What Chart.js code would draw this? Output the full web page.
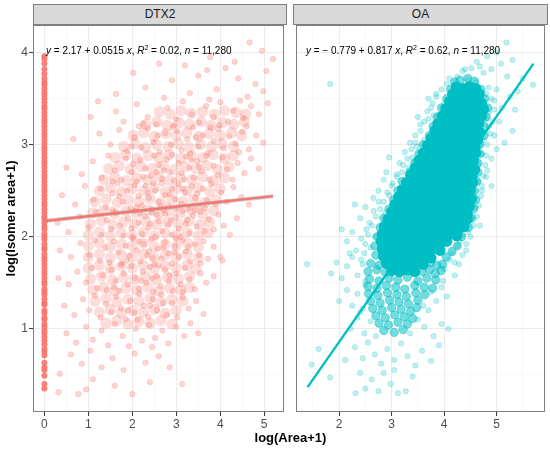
<!DOCTYPE html>
<html>
<head>
<meta charset="utf-8">
<script src="https://cdn.jsdelivr.net/npm/chart.js@4.4.1/dist/chart.umd.min.js"></script>
<style>
  body { margin: 0; background: #fff; font-family: "Liberation Sans", Arial, sans-serif; }
  #wrap { position: relative; width: 550px; height: 449px; overflow: hidden; }
  .box { position: absolute; top: 0; height: 449px; }
  .strip { position: absolute; top: 4px; height: 21px; box-sizing: border-box; background: #d9d9d9;
           border: 1px solid #7f7f7f; font-size: 12px; color: #1a1a1a; text-align: center; line-height: 19px; }
  .eq { position: absolute; top: 45px; font-size: 10px; line-height: 12px; color: #000; white-space: nowrap; }
  .eq sup { font-size: 7px; vertical-align: 4px; line-height: 0; }
  #xtitle { position: absolute; left: 33px; width: 515px; top: 430px; text-align: center;
            font-size: 13px; font-weight: bold; color: #000; }
</style>
</head>
<body>
<div id="wrap">
  <div class="box" style="left:0;width:290px"><canvas id="dtx2" width="290" height="449"></canvas></div>
  <div class="box" style="left:290px;width:260px"><canvas id="oa" width="260" height="449"></canvas></div>
  <div class="strip" style="left:33px;width:254px">DTX2</div>
  <div class="strip" style="left:293px;width:255px">OA</div>
  <div class="eq" style="left:46px"><i>y</i> = 2.17 + 0.0515 <i>x</i>, <i>R</i><sup>2</sup> = 0.02, <i>n</i> = 11,280</div>
  <div class="eq" style="left:306px"><i>y</i> = &minus; 0.779 + 0.817 <i>x</i>, <i>R</i><sup>2</sup> = 0.62, <i>n</i> = 11,280</div>
  <div id="xtitle">log(Area+1)</div>
</div>
<script>
// axis limits and ticks
const yRange = [0.095, 4.30];
const yTicks = [1, 2, 3, 4];
const yMinor = [0.5, 1.5, 2.5, 3.5];
const xRangeDTX2 = [-0.26, 5.46];
const xTicksDTX2 = [0, 1, 2, 3, 4, 5];
const xMinorDTX2 = [0.5, 1.5, 2.5, 3.5, 4.5];
const xRangeOA = [1.17, 5.91];
const xTicksOA = [2, 3, 4, 5];
const xMinorOA = [1.5, 2.5, 3.5, 4.5, 5.5];

// fitted lines
const dtx2FitX = [0, 5.2];
const dtx2FitY = [2.17, 2.44];
const oaFitX = [1.4, 5.7];
const oaFitY = [0.365, 3.88];

// DTX2: isomer values where log(Area+1) = 0
const dtx2ZeroY = [0.35, 0.4, 0.49, 0.55, 0.58, 0.63, 0.71, 0.75, 0.78, 0.83, 0.87, 0.91, 0.95, 0.98,
  1.02, 1.05, 1.1, 1.12, 1.17, 1.2, 1.26, 1.28, 1.32, 1.37, 1.4, 1.43, 1.48, 1.51, 1.55, 1.59, 1.62, 1.66,
  1.7, 1.74, 1.77, 1.81, 1.86, 1.88, 1.92, 1.97, 2.0, 2.03, 2.08, 2.11, 2.15, 2.19, 2.22, 2.26, 2.3, 2.34,
  2.37, 2.41, 2.45, 2.49, 2.52, 2.56, 2.6, 2.64, 2.67, 2.71, 2.75, 2.79, 2.82, 2.86, 2.9, 2.94, 2.97, 3.01,
  3.05, 3.09, 3.12, 3.16, 3.2, 3.24, 3.27, 3.31, 3.35, 3.39, 3.42, 3.46, 3.5, 3.54, 3.57, 3.61, 3.65,
  3.68, 3.72, 3.77, 3.82, 3.88, 3.93, 3.96];

// DTX2 cloud
const dtx2Cloud = [
  [4.67,4.11],[5.2,3.93],[3.77,3.95],[4.33,3.9],[2.61,3.88],[3.2,3.86],[4.95,4.02],
  [1.63,3.55],[2.3,3.62],[2.9,3.7],[3.5,3.75],[3.92,3.6],[4.41,3.72],[4.8,3.66],[5.05,3.8],[2.02,3.78],
  [3.31,3.56],[4.12,3.83],[4.62,3.52],[2.72,3.51],[3.7,3.81],[1.22,3.47],[4.98,3.58],
  [1.05,3.3],[1.63,3.36],[2.1,3.44],[2.35,3.3],[2.55,3.22],[2.8,3.4],[3.0,3.28],[3.15,3.47],[3.35,3.33],
  [3.52,3.24],[3.68,3.42],[3.85,3.3],[4.0,3.46],[4.18,3.25],[4.3,3.37],[4.52,3.29],[4.7,3.42],[4.88,3.33],
  [5.08,3.45],[2.95,3.21],[3.75,3.49],[4.45,3.48],[2.25,3.23],[3.98,3.21],[4.6,3.2],[1.8,3.25],
  [0.66,3.06],[1.25,3.12],[1.5,3.0],[1.7,3.16],[1.88,2.93],[2.05,3.08],[2.2,2.97],[2.35,3.18],[2.48,3.03],
  [2.62,2.92],[2.75,3.12],[2.88,3.0],[3.02,3.15],[3.12,2.94],[3.25,3.06],[3.38,3.19],[3.5,2.98],[3.6,3.1],
  [3.72,2.91],[3.85,3.04],[3.95,3.17],[4.08,2.96],[4.2,3.09],[4.35,3.01],[4.5,3.14],[4.65,2.95],[4.82,3.1],
  [4.98,3.02],[2.15,3.2],[2.58,3.1],[3.32,2.9],[3.78,3.19],[1.98,2.98],[2.92,3.19],[3.45,3.08],[4.42,2.92],
  [0.5,2.75],[0.85,2.68],[1.1,2.82],[1.3,2.64],[1.45,2.88],[1.6,2.72],[1.75,2.62],[1.85,2.85],[1.98,2.7],
  [2.1,2.6],[2.18,2.83],[2.3,2.74],[2.42,2.66],[2.5,2.88],[2.6,2.78],[2.68,2.63],[2.78,2.84],[2.85,2.7],
  [2.95,2.61],[3.05,2.8],[3.12,2.69],[3.22,2.87],[3.3,2.75],[3.4,2.64],[3.48,2.82],[3.58,2.71],[3.68,2.88],
  [3.75,2.62],[3.85,2.77],[3.95,2.67],[4.05,2.86],[4.15,2.73],[4.28,2.62],[4.4,2.8],[4.55,2.69],[4.7,2.85],
  [4.88,2.74],[2.25,2.65],[2.55,2.7],[2.9,2.89],[3.18,2.62],[3.52,2.76],[2.02,2.79],[2.72,2.72],[3.35,2.83],[1.55,2.6],
  [0.4,2.45],[0.7,2.35],[0.92,2.55],[1.12,2.4],[1.28,2.52],[1.4,2.32],[1.55,2.47],[1.66,2.58],[1.78,2.38],
  [1.88,2.5],[1.96,2.31],[2.05,2.56],[2.14,2.44],[2.22,2.34],[2.3,2.55],[2.38,2.42],[2.45,2.3],[2.52,2.5],
  [2.6,2.38],[2.67,2.58],[2.74,2.45],[2.82,2.33],[2.9,2.52],[2.97,2.41],[3.05,2.57],[3.12,2.36],[3.2,2.48],
  [3.28,2.3],[3.35,2.55],[3.43,2.42],[3.52,2.33],[3.6,2.52],[3.7,2.4],[3.8,2.57],[3.9,2.35],[4.02,2.48],
  [4.15,2.38],[4.3,2.54],[4.48,2.43],[4.65,2.35],[2.1,2.32],[2.48,2.58],[2.85,2.46],[3.15,2.52],[3.48,2.47],
  [2.65,2.33],[1.7,2.44],[3.0,2.31],[2.35,2.48],[3.65,2.31],
  [0.3,2.15],[0.55,2.05],[0.8,2.22],[1.0,2.1],[1.18,2.27],[1.3,2.02],[1.42,2.18],[1.52,2.08],[1.62,2.26],
  [1.72,2.12],[1.8,2.01],[1.9,2.2],[1.98,2.09],[2.06,2.28],[2.14,2.15],[2.22,2.03],[2.3,2.22],[2.37,2.1],
  [2.44,2.26],[2.52,2.0],[2.6,2.17],[2.68,2.06],[2.75,2.25],[2.82,2.13],[2.9,2.02],[2.98,2.21],[3.06,2.09],
  [3.14,2.28],[3.22,2.14],[3.3,2.04],[3.38,2.23],[3.46,2.11],[3.55,2.27],[3.64,2.06],[3.74,2.19],[3.85,2.08],
  [3.96,2.24],[4.08,2.12],[4.22,2.02],[4.38,2.2],[2.0,2.0],[2.4,2.14],[2.72,2.29],[3.1,2.0],[3.42,2.29],
  [2.56,2.24],[2.88,2.18],[1.55,2.29],[3.25,2.18],[2.18,2.25],
  [0.35,1.85],[0.6,1.78],[0.82,1.93],[1.02,1.8],[1.15,1.96],[1.26,1.74],[1.38,1.88],[1.48,1.72],[1.58,1.95],
  [1.68,1.83],[1.76,1.71],[1.85,1.9],[1.93,1.79],[2.02,1.98],[2.1,1.85],[2.18,1.73],[2.26,1.92],[2.34,1.8],
  [2.42,1.97],[2.5,1.7],[2.58,1.87],[2.66,1.76],[2.74,1.94],[2.82,1.82],[2.9,1.71],[2.98,1.9],[3.06,1.78],
  [3.14,1.96],[3.22,1.84],[3.32,1.73],[3.42,1.92],[3.52,1.8],[3.62,1.95],[3.72,1.76],[3.85,1.89],[4.0,1.78],
  [4.05,1.74],[2.38,1.84],[2.7,1.88],[3.0,1.98],[2.15,1.95],[1.88,1.74],[3.28,1.89],[2.46,1.77],[2.95,1.83],[3.55,1.71],
  [0.32,1.55],[0.55,1.48],[0.75,1.62],[0.95,1.5],[1.08,1.66],[1.2,1.44],[1.32,1.58],[1.42,1.42],[1.52,1.64],
  [1.62,1.52],[1.7,1.41],[1.8,1.6],[1.9,1.48],[1.98,1.68],[2.06,1.55],[2.15,1.43],[2.24,1.62],[2.32,1.5],
  [2.4,1.67],[2.48,1.4],[2.56,1.57],[2.65,1.46],[2.74,1.64],[2.83,1.52],[2.92,1.41],[3.0,1.6],[3.1,1.48],
  [3.2,1.66],[3.3,1.54],[3.42,1.43],[3.55,1.6],[3.68,1.5],[3.85,1.57],[2.2,1.52],[2.6,1.69],[2.85,1.58],
  [1.75,1.69],[2.45,1.55],[3.15,1.4],[1.58,1.45],
  [0.45,1.25],[0.68,1.15],[0.88,1.32],[1.02,1.2],[1.15,1.36],[1.28,1.12],[1.4,1.27],[1.52,1.18],[1.63,1.35],
  [1.74,1.22],[1.85,1.1],[1.95,1.3],[2.05,1.17],[2.16,1.38],[2.26,1.25],[2.36,1.13],[2.46,1.32],[2.56,1.2],
  [2.66,1.37],[2.78,1.15],[2.9,1.28],[3.02,1.12],[3.14,1.34],[3.28,1.22],[3.45,1.3],[3.62,1.16],[1.9,1.2],
  [2.4,1.25],[2.7,1.28],[2.12,1.1],
  [0.5,0.95],[0.72,0.85],[0.95,1.02],[1.1,0.88],[1.3,0.98],[1.45,0.82],[1.6,1.05],[1.78,0.92],[1.92,0.81],
  [2.08,1.0],[2.22,0.87],[2.38,1.04],[2.52,0.9],[2.68,0.98],[2.82,0.84],[3.0,1.02],[3.18,0.92],[3.5,0.95],
  [3.32,1.06],[2.45,0.8],
  [0.35,0.51],[0.6,0.72],[0.85,0.62],[1.05,0.76],[1.3,0.58],[1.55,0.68],[1.8,0.55],[2.05,0.73],[2.3,0.63],
  [2.6,0.7],[2.85,0.58],[3.13,0.4],
  [0.32,0.31],[0.77,0.29],[2.0,0.29],[1.1,0.45],[1.6,0.38],[2.4,0.42],[0.95,0.34]
];

// DTX2 densest part of the cloud (heavily overlapped points)
const dtx2Dense = [
  [2.62,3.36],[2.86,3.33],[3.11,3.37],[3.34,3.34],[3.6,3.36],[3.86,3.33],[4.1,3.37],[4.36,3.35],[4.58,3.33],
  [2.31,3.22],[2.56,3.25],[2.79,3.21],[3.06,3.24],[3.3,3.22],[3.56,3.25],[3.79,3.21],[4.05,3.24],[4.31,3.22],[4.55,3.25],
  [2.02,3.1],[2.26,3.13],[2.5,3.09],[2.76,3.12],[3.0,3.1],[3.24,3.13],[3.51,3.09],[3.75,3.12],[4.0,3.1],[4.26,3.13],[4.49,3.1],
  [1.8,2.98],[2.06,3.01],[2.3,2.97],[2.55,3.0],[2.81,2.98],[3.05,3.01],[3.29,2.97],[3.55,3.0],[3.8,2.98],[4.04,3.01],[4.3,2.98],
  [1.61,2.86],[1.85,2.89],[2.1,2.85],[2.36,2.88],[2.6,2.86],[2.84,2.89],[3.1,2.85],[3.35,2.88],[3.6,2.86],[3.84,2.89],[4.1,2.85],[4.3,2.88],
  [1.46,2.74],[1.7,2.77],[1.95,2.73],[2.2,2.76],[2.45,2.74],[2.71,2.77],[2.95,2.73],[3.2,2.76],[3.45,2.74],[3.7,2.77],[3.94,2.73],[4.2,2.76],
  [1.35,2.62],[1.6,2.65],[1.86,2.61],[2.1,2.64],[2.35,2.62],[2.6,2.65],[2.84,2.61],[3.1,2.64],[3.36,2.62],[3.6,2.65],[3.85,2.61],[4.1,2.64],
  [1.25,2.5],[1.5,2.53],[1.75,2.49],[2.0,2.52],[2.26,2.5],[2.5,2.53],[2.75,2.49],[3.0,2.52],[3.25,2.5],[3.5,2.53],[3.76,2.49],[4.0,2.52],
  [1.15,2.38],[1.4,2.41],[1.66,2.37],[1.9,2.4],[2.15,2.38],[2.4,2.41],[2.65,2.37],[2.9,2.4],[3.15,2.38],[3.4,2.41],[3.65,2.37],[3.9,2.4],
  [1.1,2.26],[1.35,2.29],[1.6,2.25],[1.85,2.28],[2.1,2.26],[2.35,2.29],[2.6,2.25],[2.85,2.28],[3.1,2.26],[3.35,2.29],[3.6,2.25],[3.85,2.28],
  [1.05,2.14],[1.3,2.17],[1.55,2.13],[1.8,2.16],[2.05,2.14],[2.3,2.17],[2.55,2.13],[2.8,2.16],[3.05,2.14],[3.3,2.17],[3.55,2.13],[3.76,2.16],
  [1.0,2.02],[1.25,2.05],[1.5,2.01],[1.75,2.04],[2.0,2.02],[2.25,2.05],[2.5,2.01],[2.75,2.04],[3.0,2.02],[3.25,2.05],[3.5,2.01],[3.72,2.04],
  [1.0,1.9],[1.25,1.93],[1.5,1.89],[1.75,1.92],[2.0,1.9],[2.25,1.93],[2.5,1.89],[2.75,1.92],[3.0,1.9],[3.25,1.93],[3.5,1.89],
  [1.0,1.78],[1.25,1.81],[1.5,1.77],[1.75,1.8],[2.0,1.78],[2.25,1.81],[2.5,1.77],[2.75,1.8],[3.0,1.78],[3.25,1.81],[3.5,1.77],
  [1.0,1.66],[1.25,1.69],[1.5,1.65],[1.75,1.68],[2.0,1.66],[2.25,1.69],[2.5,1.65],[2.75,1.68],[3.0,1.66],[3.25,1.69],[3.45,1.65],
  [1.05,1.54],[1.3,1.57],[1.55,1.53],[1.8,1.56],[2.05,1.54],[2.3,1.57],[2.55,1.53],[2.8,1.56],[3.05,1.54],[3.3,1.57],
  [1.1,1.42],[1.35,1.45],[1.6,1.41],[1.85,1.44],[2.1,1.42],[2.35,1.45],[2.6,1.41],[2.85,1.44],[3.1,1.42],[3.3,1.45],
  [1.15,1.3],[1.4,1.33],[1.65,1.29],[1.9,1.32],[2.15,1.3],[2.4,1.33],[2.65,1.29],[2.9,1.32],[3.15,1.3],
  [1.25,1.18],[1.5,1.21],[1.75,1.17],[2.0,1.2],[2.25,1.18],[2.5,1.21],[2.75,1.17],[3.0,1.2],
  [1.4,1.06],[1.65,1.09],[1.9,1.05],[2.15,1.08],[2.4,1.06],[2.65,1.09],[2.9,1.05]
];

// OA: saturated core of the cloud
const oaCore = [
  [4.23,3.63],[4.36,3.61],[4.48,3.63],[4.6,3.61],
  [4.16,3.55],[4.29,3.53],[4.42,3.55],[4.55,3.53],[4.67,3.55],
  [4.1,3.47],[4.23,3.45],[4.36,3.47],[4.49,3.45],[4.61,3.47],[4.71,3.45],
  [4.03,3.39],[4.16,3.37],[4.29,3.39],[4.42,3.37],[4.55,3.39],[4.67,3.37],[4.75,3.39],
  [3.96,3.31],[4.09,3.29],[4.22,3.31],[4.35,3.29],[4.48,3.31],[4.6,3.29],[4.71,3.31],
  [3.88,3.23],[4.01,3.21],[4.14,3.23],[4.27,3.21],[4.4,3.23],[4.53,3.21],[4.66,3.23],
  [3.82,3.15],[3.95,3.13],[4.08,3.15],[4.21,3.13],[4.34,3.15],[4.47,3.13],[4.59,3.15],[4.68,3.13],
  [3.75,3.07],[3.88,3.05],[4.01,3.07],[4.14,3.05],[4.27,3.07],[4.4,3.05],[4.53,3.07],[4.64,3.05],
  [3.68,2.99],[3.81,2.97],[3.94,2.99],[4.07,2.97],[4.2,2.99],[4.33,2.97],[4.46,2.99],[4.59,2.97],
  [3.6,2.91],[3.73,2.89],[3.86,2.91],[3.99,2.89],[4.12,2.91],[4.25,2.89],[4.38,2.91],[4.5,2.89],[4.6,2.91],
  [3.52,2.83],[3.65,2.81],[3.78,2.83],[3.91,2.81],[4.04,2.83],[4.17,2.81],[4.3,2.83],[4.43,2.81],[4.56,2.83],
  [3.45,2.75],[3.58,2.73],[3.71,2.75],[3.84,2.73],[3.97,2.75],[4.1,2.73],[4.23,2.75],[4.36,2.73],[4.48,2.75],[4.58,2.73],
  [3.36,2.67],[3.49,2.65],[3.62,2.67],[3.75,2.65],[3.88,2.67],[4.01,2.65],[4.14,2.67],[4.27,2.65],[4.4,2.67],[4.53,2.65],
  [3.28,2.59],[3.41,2.57],[3.54,2.59],[3.67,2.57],[3.8,2.59],[3.93,2.57],[4.06,2.59],[4.19,2.57],[4.32,2.59],[4.44,2.57],[4.54,2.59],
  [3.2,2.51],[3.33,2.49],[3.46,2.51],[3.59,2.49],[3.72,2.51],[3.85,2.49],[3.98,2.51],[4.11,2.49],[4.24,2.51],[4.37,2.49],[4.5,2.51],
  [3.13,2.43],[3.26,2.41],[3.39,2.43],[3.52,2.41],[3.65,2.43],[3.78,2.41],[3.91,2.43],[4.04,2.41],[4.17,2.43],[4.3,2.41],[4.42,2.43],[4.52,2.41],
  [3.06,2.35],[3.19,2.33],[3.32,2.35],[3.45,2.33],[3.58,2.35],[3.71,2.33],[3.84,2.35],[3.97,2.33],[4.1,2.35],[4.23,2.33],[4.36,2.35],[4.48,2.33],
  [3.0,2.27],[3.13,2.25],[3.26,2.27],[3.39,2.25],[3.52,2.27],[3.65,2.25],[3.78,2.27],[3.91,2.25],[4.04,2.27],[4.17,2.25],[4.3,2.27],[4.44,2.25],
  [2.93,2.19],[3.06,2.17],[3.19,2.19],[3.32,2.17],[3.45,2.19],[3.58,2.17],[3.71,2.19],[3.84,2.17],[3.97,2.19],[4.1,2.17],[4.23,2.19],[4.36,2.17],[4.44,2.19],
  [2.86,2.11],[2.99,2.09],[3.12,2.11],[3.25,2.09],[3.38,2.11],[3.51,2.09],[3.64,2.11],[3.77,2.09],[3.9,2.11],[4.03,2.09],[4.16,2.11],[4.28,2.09],[4.38,2.11],
  [2.82,2.03],[2.95,2.01],[3.08,2.03],[3.21,2.01],[3.34,2.03],[3.47,2.01],[3.6,2.03],[3.73,2.01],[3.86,2.03],[3.99,2.01],[4.12,2.03],[4.24,2.01],
  [2.8,1.95],[2.92,1.93],[3.04,1.95],[3.16,1.93],[3.28,1.95],[3.41,1.93],[3.54,1.95],[3.67,1.93],[3.8,1.95],[3.93,1.93],[4.05,1.95],
  [2.82,1.87],[2.94,1.85],[3.06,1.87],[3.18,1.85],[3.3,1.87],[3.42,1.85],[3.55,1.87],[3.68,1.85],[3.8,1.87],[3.92,1.85],
  [2.84,1.79],[2.97,1.77],[3.1,1.79],[3.23,1.77],[3.36,1.79],[3.49,1.77],[3.62,1.79],[3.75,1.77],
  [2.9,1.71],[3.04,1.7],[3.18,1.72],[3.32,1.7],[3.46,1.71],[3.6,1.7],
  [3.0,1.63],[3.15,1.62],[3.3,1.64],[3.44,1.62]
];

// OA: edges of the core and its lower, less saturated part
const oaMid = [
  [4.2,3.68],[4.3,3.7],[4.45,3.72],[4.58,3.69],[4.12,3.6],[4.05,3.5],[3.95,3.4],[3.87,3.3],[3.79,3.2],
  [3.72,3.1],[3.6,3.0],[3.52,2.9],[3.44,2.8],[3.35,2.7],[3.2,2.6],[3.12,2.5],[3.04,2.4],[2.95,2.3],
  [2.85,2.2],[2.78,2.1],[2.73,2.0],[2.68,1.9],[2.7,1.8],
  [4.7,3.6],[4.77,3.5],[4.83,3.4],[4.8,3.3],[4.76,3.2],[4.76,3.1],[4.68,3.0],[4.68,2.9],[4.64,2.8],
  [4.64,2.7],[4.62,2.6],[4.58,2.5],[4.6,2.4],[4.56,2.3],[4.52,2.2],[4.46,2.1],[4.33,2.0],[4.25,1.9],
  [4.15,1.84],[4.04,1.78],
  [2.6,1.71],[2.76,1.69],[3.74,1.72],[3.86,1.69],[3.97,1.7],
  [2.55,1.62],[2.72,1.64],[2.88,1.61],[3.58,1.62],[3.72,1.64],[3.83,1.6],[3.94,1.63],
  [2.58,1.54],[2.76,1.52],[2.95,1.55],[3.12,1.53],[3.3,1.56],[3.5,1.52],[3.67,1.55],[3.84,1.53],
  [2.55,1.46],[2.72,1.44],[2.9,1.47],[3.08,1.45],[3.25,1.43],[3.44,1.47],[3.62,1.45],[3.78,1.44],
  [2.56,1.38],[2.74,1.36],[2.92,1.39],[3.1,1.37],[3.28,1.35],[3.46,1.39],[3.63,1.37],
  [2.6,1.3],[2.78,1.28],[2.96,1.31],[3.14,1.29],[3.32,1.27],[3.5,1.31],
  [2.64,1.22],[2.82,1.2],[3.0,1.23],[3.18,1.21],[3.36,1.19],[3.48,1.23],
  [2.7,1.14],[2.88,1.12],[3.06,1.15],[3.24,1.13],[3.4,1.11],
  [2.76,1.06],[2.94,1.04],[3.12,1.07],[3.3,1.05],
  [2.85,0.98],[3.05,0.96],[3.22,0.99]
];

// OA: fringe and scattered points
const oaCloud = [
  [5.19,4.11],[5.0,4.0],[4.82,3.96],[5.3,3.92],[5.08,3.88],[4.62,3.9],[4.9,3.82],[5.69,3.65],[5.5,3.72],
  [5.2,3.74],[4.4,3.82],[4.25,3.74],[4.75,3.78],[5.4,3.58],[1.83,3.66],
  [4.35,3.8],[4.52,3.83],[4.68,3.85],[4.1,3.72],
  [3.85,3.55],[3.78,3.45],[3.68,3.36],[3.62,3.25],[3.55,3.15],[3.45,3.02],[3.38,2.95],[3.3,2.85],
  [3.22,2.78],[3.1,2.65],[3.0,2.55],[2.92,2.48],[2.85,2.38],[2.78,2.3],[2.7,2.22],[2.62,2.12],[2.55,2.02],
  [2.5,1.92],[2.48,1.82],[2.42,1.75],
  [4.85,3.62],[4.9,3.5],[4.95,3.38],[4.92,3.25],[4.88,3.12],[4.82,3.0],[4.8,2.88],[4.78,2.78],[4.75,2.66],
  [4.72,2.55],[4.7,2.44],[4.66,2.34],[4.62,2.22],[4.56,2.12],[4.5,2.0],[4.42,1.92],[4.35,1.8],[4.2,1.72],
  [3.75,3.4],[3.85,3.52],[3.95,3.6],[4.0,3.45],[3.8,3.32],[4.8,3.55],[4.95,3.48],[5.1,3.4],[5.25,3.52],
  [4.85,3.35],[5.35,3.38],[5.0,3.6],[4.05,3.66],[4.6,3.68],[4.45,3.7],[3.7,3.5],
  [3.45,3.1],[3.55,3.22],[3.62,3.05],[3.7,3.28],[3.78,3.15],[3.5,3.3],[4.75,3.05],[4.85,3.2],[4.95,3.1],
  [5.05,3.25],[5.15,3.02],[4.8,3.28],[5.3,3.15],[3.35,3.02],
  [3.15,2.8],[3.25,2.92],[3.32,2.75],[3.4,2.86],[3.48,2.98],[3.2,2.7],[4.65,2.78],[4.72,2.9],[4.82,2.72],
  [4.9,2.85],[5.0,2.95],[4.68,3.0],[2.95,2.86],
  [2.75,2.5],[2.85,2.62],[2.95,2.45],[3.02,2.58],[3.1,2.68],[3.18,2.52],[2.9,2.7],[4.58,2.45],[4.65,2.6],
  [4.72,2.5],[4.8,2.65],[4.9,2.55],[4.6,2.68],[2.65,2.42],
  [2.4,2.2],[2.5,2.32],[2.58,2.15],[2.66,2.28],[2.75,2.38],[2.82,2.12],[2.88,2.26],[2.3,2.35],[4.52,2.2],
  [4.6,2.32],[4.68,2.12],[4.55,2.38],[4.45,2.05],
  [2.15,1.95],[2.25,2.05],[2.32,1.85],[2.42,1.98],[2.52,2.08],[2.6,1.88],[2.68,2.0],[2.2,1.82],[4.25,1.9],
  [4.35,2.02],[4.42,1.85],[4.3,1.95],[4.15,1.82],[2.05,2.08],
  [1.85,1.6],[1.95,1.72],[2.05,1.55],[2.15,1.68],[2.25,1.78],[2.35,1.58],[2.45,1.7],[2.5,1.52],[4.0,1.65],
  [4.1,1.75],[4.2,1.58],[4.28,1.7],[3.98,1.52],[1.39,1.7],
  [2.0,1.3],[2.15,1.42],[2.25,1.25],[2.35,1.38],[2.45,1.22],[2.5,1.48],[3.6,1.25],[3.75,1.4],[3.85,1.3],
  [3.95,1.45],[4.05,1.35],[3.7,1.2],
  [2.22,1.0],[2.35,1.12],[2.48,0.95],[2.6,1.08],[3.35,0.95],[3.5,1.1],[3.62,1.02],[3.8,0.92],[3.95,1.05],
  [4.08,1.0],[2.7,0.92],[2.4,1.18],
  [1.61,0.78],[2.3,0.8],[2.45,0.68],[2.55,0.85],[2.68,0.72],[2.8,0.62],[2.92,0.78],[3.05,0.66],[3.18,0.84],
  [3.3,0.7],[3.45,0.6],[3.58,0.76],[3.75,0.65],[3.9,0.82],[1.48,0.61],[2.12,0.66],
  [1.83,0.47],[2.31,0.3],[2.5,0.35],[2.62,0.45],[2.75,0.32],[2.85,0.52],[2.98,0.4],[3.12,0.3],[3.27,0.32],
  [3.05,0.55],[2.4,0.52],[3.4,0.48]
];

const FONT = '"Liberation Sans", Arial, sans-serif';
const RED = '248,118,109';
const CYAN = '0,191,196';

const toXY = (pairs) => pairs.map(([x, y]) => ({ x, y }));
const lineXY = (xs, ys) => xs.map((x, i) => ({ x, y: ys[i] }));

function pointSet(pairs, rgb, alpha, radius, border) {
  return {
    data: toXY(pairs),
    backgroundColor: `rgba(${rgb},${alpha})`,
    borderColor: `rgba(${rgb},${alpha})`,
    borderWidth: border,
    pointRadius: radius,
    pointHoverRadius: radius
  };
}

function fitSet(xs, ys, color, width) {
  return {
    data: lineXY(xs, ys),
    showLine: true,
    borderColor: color,
    borderWidth: width,
    pointRadius: 0,
    pointHoverRadius: 0
  };
}

const panelFrame = {
  id: 'panelFrame',
  afterDatasetsDraw(chart) {
    const { ctx, chartArea: a } = chart;
    ctx.save();
    ctx.strokeStyle = '#7f7f7f';
    ctx.lineWidth = 1;
    ctx.strokeRect(Math.round(a.left) + 0.5, Math.round(a.top) + 0.5,
      Math.round(a.width) - 1, Math.round(a.height) - 1);
    ctx.restore();
  }
};

function makeScale(range, majors, minors, opts) {
  const all = majors.concat(minors).sort((p, q) => p - q);
  return {
    type: 'linear',
    min: range[0],
    max: range[1],
    border: { display: false },
    afterBuildTicks: (s) => { s.ticks = all.map((v) => ({ value: v })); },
    afterFit: opts.fit,
    grid: {
      color: (c) => majors.includes(c.tick.value) ? '#ebebeb' : '#f4f4f4',
      lineWidth: (c) => majors.includes(c.tick.value) ? 1.1 : 0.6,
      drawTicks: opts.ticks,
      tickLength: 4,
      tickColor: (c) => majors.includes(c.tick.value) ? '#333333' : 'rgba(0,0,0,0)',
      tickWidth: 1
    },
    ticks: {
      display: opts.ticks,
      autoSkip: false,
      maxRotation: 0,
      padding: 1,
      color: '#4d4d4d',
      font: { family: FONT, size: 12 },
      callback: (v) => majors.includes(v) ? String(v) : ''
    },
    title: opts.title || { display: false }
  };
}

function panel(id, datasets, xRange, xMajor, xMinor, withY, padLeft, padRight) {
  return new Chart(document.getElementById(id), {
    type: 'scatter',
    data: { datasets },
    options: {
      responsive: false,
      animation: false,
      events: [],
      layout: { padding: { top: 25, right: padRight, left: padLeft, bottom: 0 } },
      plugins: { legend: { display: false }, tooltip: { enabled: false } },
      scales: {
        x: makeScale(xRange, xMajor, xMinor, {
          ticks: true,
          fit: (s) => { s.height = 37; }
        }),
        y: makeScale(yRange, yTicks, yMinor, {
          ticks: withY,
          fit: (s) => { s.width = withY ? 33 : 3; },
          title: withY ? {
            display: true,
            text: 'log(Isomer area+1)',
            color: '#000',
            font: { family: FONT, size: 13, weight: 'bold' },
            padding: { top: 4, bottom: 0 }
          } : { display: false }
        })
      }
    },
    plugins: [panelFrame]
  });
}

panel('dtx2', [
  fitSet(dtx2FitX, dtx2FitY, '#F8766D', 2.4),
  fitSet(dtx2FitX, dtx2FitY, 'rgba(150,150,150,0.45)', 4),
  pointSet(dtx2ZeroY.map((y) => [0, y]), RED, 0.9, 2.7, 0.8),
  pointSet(dtx2Cloud, RED, 0.3, 2.7, 0.8),
  pointSet(dtx2Dense, RED, 0.25, 5.6, 0)
], xRangeDTX2, xTicksDTX2, xMinorDTX2, true, 0, 3);

panel('oa', [
  fitSet(oaFitX, oaFitY, '#00BFC4', 2.4),
  pointSet(oaCloud, CYAN, 0.25, 2.7, 0.8),
  pointSet(oaMid, CYAN, 0.55, 4.2, 0.8),
  pointSet(oaCore, CYAN, 1, 5.5, 0)
], xRangeOA, xTicksOA, xMinorOA, false, 0, 2);
</script>
</body>
</html>
